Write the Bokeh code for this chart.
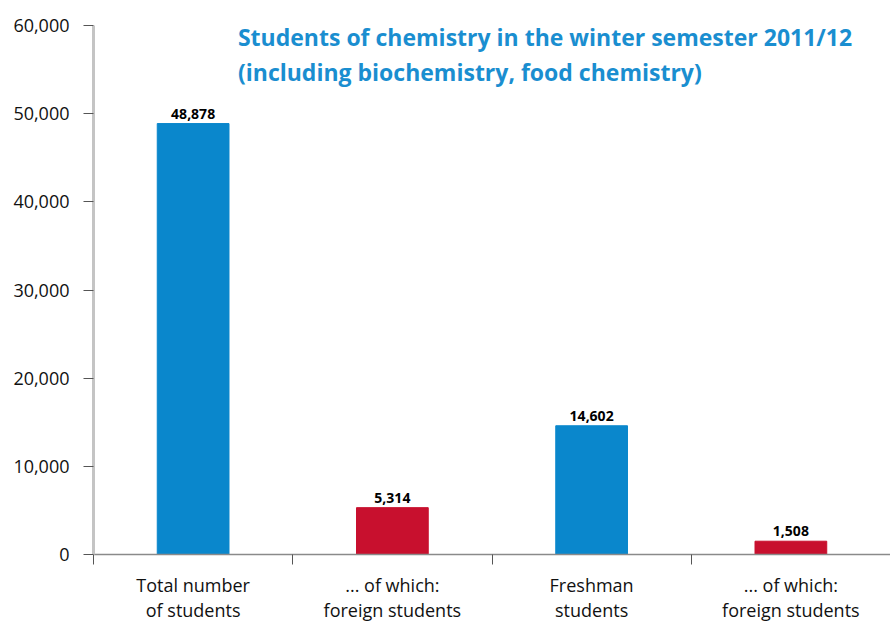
from bokeh.plotting import figure
from bokeh.models import ColumnDataSource, FixedTicker, NumeralTickFormatter, Range1d, LinearAxis
from bokeh.core.properties import value
from bokeh.embed import file_html
from bokeh.resources import INLINE

categories = ["Total number\nof students", "... of which:\nforeign students",
              "Freshman\nstudents", "... of which:\nforeign students"]
students = [48878, 5314, 14602, 1508]
bar_colors = ["#0a87cc", "#c8102e", "#0a87cc", "#c8102e"]
y_ticks = [0, 10000, 20000, 30000, 40000, 50000, 60000]
title_lines = ["Students of chemistry in the winter semester 2011/12",
               "(including biochemistry, food chemistry)"]

FONT = "Open Sans"
xs = [i + 0.5 for i in range(len(categories))]
src = ColumnDataSource(dict(x=xs, y=students, color=bar_colors,
                            label=[f"{v:,}" for v in students]))

p = figure(width=890, height=624, output_backend="svg", toolbar_location=None,
           x_range=Range1d(0, len(categories)), y_range=Range1d(0, 60000),
           min_border_left=93, min_border_right=0, min_border_top=25, min_border_bottom=70)
p.outline_line_color = None
p.xgrid.grid_line_color = None
p.ygrid.grid_line_color = None
p.background_fill_color = "white"

p.vbar(x="x", top="y", width=0.36, color="color", source=src)
p.text(x="x", y="y", text="label", source=src, text_align="center",
       text_baseline="bottom", y_offset=-5, text_font=value(FONT),
       text_font_style="bold", text_font_size="14px", text_color="black")

# title
p.text(x=[0.725, 0.725], y=[58750, 54670], text=title_lines, text_align="left",
       text_baseline="middle", text_font=value(FONT), text_font_style="bold",
       text_font_size="23px", text_color="#1a8ed0")

line1 = {x: c.split("\n")[0] for x, c in zip(xs, categories)}
line2 = {x: c.split("\n")[1] for x, c in zip(xs, categories)}

xa = p.xaxis[0]
xa.ticker = FixedTicker(ticks=xs, minor_ticks=list(range(len(categories) + 1)))
xa.major_label_overrides = line1
xa.major_tick_line_color = None
xa.minor_tick_line_color = "#555555"
xa.minor_tick_out = 10
xa.minor_tick_in = 0
xa.major_tick_out = 10
xa.major_tick_in = 0
xa.axis_line_color = "#8a8a8a"
xa.axis_line_width = 1.5
xa.major_label_text_font = FONT
xa.major_label_text_font_size = "18px"
xa.major_label_text_color = "#111111"
xa.major_label_standoff = 8

xb = LinearAxis(ticker=FixedTicker(ticks=xs), major_label_overrides=line2)
xb.axis_line_color = None
xb.major_tick_line_color = None
xb.minor_tick_line_color = None
xb.major_tick_out = 0
xb.major_tick_in = 0
xb.major_label_text_font = FONT
xb.major_label_text_font_size = "18px"
xb.major_label_text_color = "#111111"
xb.major_label_standoff = -2
p.add_layout(xb, "below")

ya = p.yaxis[0]
ya.ticker = FixedTicker(ticks=y_ticks)
ya.formatter = NumeralTickFormatter(format="0,0")
ya.minor_tick_line_color = None
ya.major_tick_line_color = "#555555"
ya.major_tick_out = 10
ya.major_tick_in = 0
ya.axis_line_color = "#c4c4c4"
ya.axis_line_width = 3
ya.major_label_text_font = FONT
ya.major_label_text_font_size = "18px"
ya.major_label_text_color = "#111111"
ya.major_label_standoff = 14

open("out.html", "w").write(file_html(p, INLINE))
